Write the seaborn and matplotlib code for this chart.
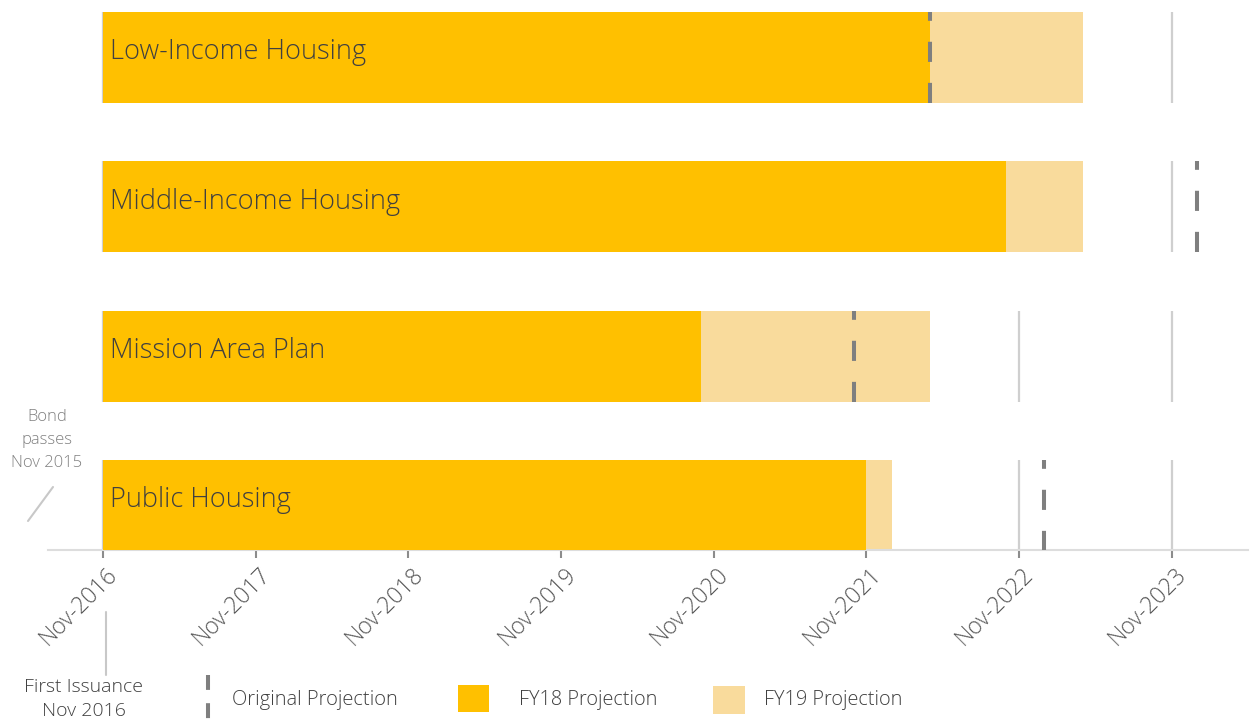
import matplotlib
matplotlib.use("Agg")
import matplotlib.pyplot as plt
import matplotlib.transforms as mtransforms
from matplotlib.lines import Line2D
from matplotlib.patches import Rectangle
import seaborn as sns
import pandas as pd

# Programs, with milestone dates as months after Nov-2016
programs = ["Low-Income Housing", "Middle-Income Housing", "Mission Area Plan", "Public Housing"]
fy18_months = [65, 71, 47, 60]
fy19_months = [77, 77, 65, 62]
original_months = [65, 86, 59, 74]
tick_months = [0, 12, 24, 36, 48, 60, 72, 84]
tick_labels = ["Nov-2016", "Nov-2017", "Nov-2018", "Nov-2019",
               "Nov-2020", "Nov-2021", "Nov-2022", "Nov-2023"]

FY18_COLOR = "#FFC000"
FY19_COLOR = "#F9DB9C"
GRID_COLOR = "#CFCFCF"
DASH_COLOR = "#7F7F7F"
TEXT_DARK = "#404040"
TEXT_GRAY = "#808080"

sns.set_theme(style="white")
plt.rcParams["font.family"] = ["Open Sans", "DejaVu Sans"]

df = pd.DataFrame({"program": programs, "fy18": fy18_months,
                   "fy19": fy19_months, "original": original_months})

fig = plt.figure(figsize=(12.51, 7.23), dpi=100)
ax = fig.add_axes([48 / 1251, 1 - 550 / 723, 1200 / 1251, 550 / 723])

BAR_W = 0.61
half = BAR_W / 2

# per-row gridlines, only inside each bar band
for i in range(len(programs)):
    ax.vlines(tick_months, i - half, i + half, colors=GRID_COLOR, lw=1.6, zorder=0)

sns.barplot(data=df, y="program", x="fy19", orient="h", color=FY19_COLOR,
            width=BAR_W, saturation=1, ax=ax, zorder=2, linewidth=0, edgecolor="none")
sns.barplot(data=df, y="program", x="fy18", orient="h", color=FY18_COLOR,
            width=BAR_W, saturation=1, ax=ax, zorder=3, linewidth=0, edgecolor="none")

# original projection markers, dashed from the bottom of the band upward
for i, m in enumerate(original_months):
    ax.plot([m, m], [i + half, i - half], color=DASH_COLOR, lw=2.9,
            dashes=(5, 5.2), solid_capstyle="butt", dash_capstyle="butt", zorder=4)

for i, name in enumerate(programs):
    ax.text(0.55, i - 0.035, name, ha="left", va="center", fontsize=19.5,
            color=TEXT_DARK, fontweight="light", zorder=5)

ax.set_xlim(-4.32, 90.0)
ax.set_ylim(3.298, -0.385)
ax.set_xlabel("")
ax.set_ylabel("")
ax.set_yticks([])
ax.set_xticks(tick_months)
ax.set_xticklabels(tick_labels, rotation=45, ha="right", va="top",
                   rotation_mode="anchor", fontsize=16.5, color="#595959",
                   fontweight="light")
ax.tick_params(axis="x", direction="out", length=6, width=1.5, color="#8C8C8C", pad=2,
               bottom=True)
shift = mtransforms.ScaledTranslation(3 / 100, -2 / 100, fig.dpi_scale_trans)
for lbl in ax.get_xticklabels():
    lbl.set_transform(lbl.get_transform() + shift)
for side in ["top", "right", "left"]:
    ax.spines[side].set_visible(False)
ax.spines["bottom"].set_color("#DDDDDD")
ax.spines["bottom"].set_linewidth(1.5)
ax.set_zorder(1)

# annotations outside the axes
def px(x, y):
    return x / 1251, 1 - y / 723

fig.text(*px(47, 440), "Bond\npasses\nNov 2015", ha="center", va="center",
         fontsize=12, color=TEXT_GRAY, linespacing=1.6, fontweight="light")
fig.add_artist(Line2D([px(28, 0)[0], px(53, 0)[0]], [px(0, 521)[1], px(0, 487)[1]],
                      color="#C8C8C8", lw=1.5))

fig.add_artist(Line2D([px(106, 0)[0]] * 2, [px(0, 612)[1], px(0, 675)[1]],
                      color="#C8C8C8", lw=1.5))
fig.text(*px(84, 699), "First Issuance\nNov 2016", ha="center", va="center",
         fontsize=14, color=TEXT_DARK, linespacing=1.4, fontweight="light")

# legend
fig.add_artist(Line2D([px(208, 0)[0]] * 2, [px(0, 675)[1], px(0, 719)[1]],
                      color=DASH_COLOR, lw=2.9, dashes=(3.7, 3.3), dash_capstyle="butt"))
fig.text(*px(232, 700), "Original Projection", ha="left", va="center",
         fontsize=14.5, color=TEXT_DARK, fontweight="light")
x0, y0 = px(458, 712)
fig.add_artist(Rectangle((x0, y0), 31 / 1251, 27 / 723, transform=fig.transFigure,
                         color=FY18_COLOR, lw=0))
fig.text(*px(519, 700), "FY18 Projection", ha="left", va="center",
         fontsize=14.3, color=TEXT_DARK, fontweight="light")
x0, y0 = px(713, 714)
fig.add_artist(Rectangle((x0, y0), 32 / 1251, 28 / 723, transform=fig.transFigure,
                         color=FY19_COLOR, lw=0))
fig.text(*px(764, 700), "FY19 Projection", ha="left", va="center",
         fontsize=14.3, color=TEXT_DARK, fontweight="light")

fig.savefig("out.png", dpi=100)
